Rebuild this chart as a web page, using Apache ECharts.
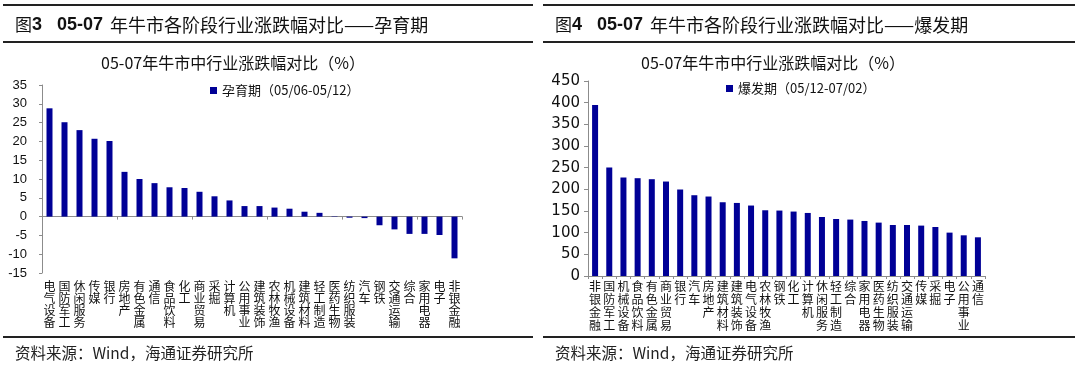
<!DOCTYPE html>
<html>
<head>
<meta charset="utf-8">
<script src="https://cdn.jsdelivr.net/npm/echarts@6/dist/echarts.min.js"></script>
<style>
html,body{margin:0;padding:0;background:#fff;}
#c{width:1080px;height:370px;}
</style>
</head>
<body>
<div id="c"></div>
<script>
// ---- data ----
const leftCats = ['电气设备','国防军工','休闲服务','传媒','银行','房地产','有色金属','通信','食品饮料','化工','商业贸易','采掘','计算机','公用事业','建筑装饰','农林牧渔','机械设备','建筑材料','轻工制造','医药生物','纺织服装','汽车','钢铁','交通运输','综合','家用电器','电子','非银金融'];
const leftVals = [28.8,25.1,23.0,20.7,20.1,11.9,10.0,8.9,7.8,7.6,6.6,5.4,4.3,2.8,2.8,2.4,2.1,1.3,1.0,0.1,-0.3,-0.4,-2.3,-3.4,-4.6,-4.6,-4.9,-11.1];
const leftSeriesName = '孕育期（05/06-05/12）';
const leftYTicks = {min:-15, max:35, interval:5};

const rightCats = ['非银金融','国防军工','机械设备','食品饮料','有色金属','商业贸易','银行','汽车','房地产','建筑材料','建筑装饰','电气设备','农林牧渔','钢铁','化工','计算机','休闲服务','轻工制造','综合','家用电器','医药生物','纺织服装','交通运输','传媒','采掘','电子','公用事业','通信'];
const rightVals = [394.5,250.4,227.3,225.7,223.4,218.0,199.6,186.4,183.4,170.2,168.6,162.6,151.7,151.0,148.7,145.5,136.2,131.6,130.2,127.0,123.2,117.7,117.7,116.3,113.1,100.1,93.9,89.3];
const rightSeriesName = '爆发期（05/12-07/02）';
const rightYTicks = {min:0, max:450, interval:50};

const chartTitle = '05-07年牛市中行业涨跌幅对比（%）';
const leftHeader = ['图','3','05-07','年牛市各阶段行业涨跌幅对比——孕育期'];
const rightHeader = ['图','4','05-07','年牛市各阶段行业涨跌幅对比——爆发期'];
const sourceText = '资料来源：Wind，海通证券研究所';

// ---- chart ----
const BAR = '#000096';
const AX = '#8c8c8c';
const vert = v => v.split('').join('\n');
const cjk = '"Noto Sans CJK SC", "Liberation Sans", sans-serif';
const num = '"Liberation Sans", Arial, sans-serif';

function header(x, parts){
  const yc = 25;
  return [
    {type:'text', x:x, y:yc, style:{text:parts[0], fontSize:17, fontFamily:cjk, fill:'#111', verticalAlign:'middle'}},
    {type:'text', x:x+17, y:yc, style:{text:parts[1], fontSize:18, fontWeight:'bold', fontFamily:num, fill:'#111', verticalAlign:'middle'}},
    {type:'text', x:x+42, y:yc, style:{text:parts[2], fontSize:18, fontWeight:'bold', fontFamily:num, fill:'#111', verticalAlign:'middle'}},
    {type:'text', x:x+95, y:yc, style:{text:parts[3], fontSize:18, fontFamily:cjk, fill:'#111', verticalAlign:'middle'}}
  ];
}
function hline(x1,x2,y,w){
  return {type:'line', shape:{x1:x1,y1:y,x2:x2,y2:y}, style:{stroke:'#222', lineWidth:w}};
}

const chart = echarts.init(document.getElementById('c'), null, {renderer:'canvas'});
chart.setOption({
  animation:false,
  backgroundColor:'#fff',
  title:[
    {text:chartTitle, left:228, top:50, textAlign:'center', textStyle:{fontSize:16, fontWeight:'normal', color:'#111', fontFamily:cjk}},
    {text:chartTitle, left:768, top:50, textAlign:'center', textStyle:{fontSize:16, fontWeight:'normal', color:'#111', fontFamily:cjk}}
  ],
  legend:[
    {data:[leftSeriesName], left:205, top:79, itemWidth:7, itemHeight:7, itemGap:5, icon:'rect',
     textStyle:{fontSize:13, color:'#111', fontFamily:cjk}},
    {data:[rightSeriesName], left:721, top:77, itemWidth:7, itemHeight:7, itemGap:5, icon:'rect',
     textStyle:{fontSize:13, color:'#111', fontFamily:cjk}}
  ],
  grid:[
    {left:42, top:85, width:420, height:188},
    {left:588, top:81, width:397, height:195}
  ],
  xAxis:[
    {type:'category', gridIndex:0, data:leftCats, position:'bottom',
     axisLine:{onZero:true, lineStyle:{color:AX}},
     axisTick:{show:true, length:3, lineStyle:{color:AX}},
     axisLabel:{show:false}, splitLine:{show:false}},
    {type:'category', gridIndex:0, data:leftCats, position:'bottom',
     axisLine:{show:false, onZero:false}, axisTick:{show:false},
     axisLabel:{interval:0, formatter:vert, fontSize:12, lineHeight:12.2, margin:7, color:'#111', fontFamily:cjk},
     splitLine:{show:false}},
    {type:'category', gridIndex:1, data:rightCats, position:'bottom',
     axisLine:{onZero:true, lineStyle:{color:AX}},
     axisTick:{show:true, length:3, lineStyle:{color:AX}},
     axisLabel:{interval:0, formatter:vert, fontSize:12, lineHeight:13, margin:4, color:'#111', fontFamily:cjk},
     splitLine:{show:false}}
  ],
  yAxis:[
    {type:'value', gridIndex:0, min:leftYTicks.min, max:leftYTicks.max, interval:leftYTicks.interval,
     axisLine:{show:true, lineStyle:{color:AX}},
     axisTick:{show:true, length:3, lineStyle:{color:AX}},
     axisLabel:{fontSize:13, margin:15, color:'#111', fontFamily:num},
     splitLine:{show:false}},
    {type:'value', gridIndex:1, min:rightYTicks.min, max:rightYTicks.max, interval:rightYTicks.interval,
     axisLine:{show:true, lineStyle:{color:AX}},
     axisTick:{show:true, length:4, lineStyle:{color:AX}},
     axisLabel:{fontSize:15, margin:8, color:'#111', fontFamily:'"DejaVu Sans", sans-serif'},
     splitLine:{show:false}}
  ],
  series:[
    {type:'bar', name:leftSeriesName, xAxisIndex:0, yAxisIndex:0, data:leftVals, barWidth:6,
     itemStyle:{color:BAR}},
    {type:'bar', name:rightSeriesName, xAxisIndex:2, yAxisIndex:1, data:rightVals, barWidth:6,
     itemStyle:{color:BAR}}
  ],
  graphic:[
    hline(3,533,5,2), hline(3,533,42,2), hline(3,533,337,2),
    hline(543,1075,5,2), hline(543,1075,42,2), hline(543,1075,337,2)
  ].concat(header(15, leftHeader), header(555, rightHeader), [
    {type:'text', left:15, top:345, style:{text:sourceText, fontSize:15.5, fill:'#222', fontFamily:cjk}},
    {type:'text', left:555, top:345, style:{text:sourceText, fontSize:15.5, fill:'#222', fontFamily:cjk}}
  ])
});
</script>
</body>
</html>
